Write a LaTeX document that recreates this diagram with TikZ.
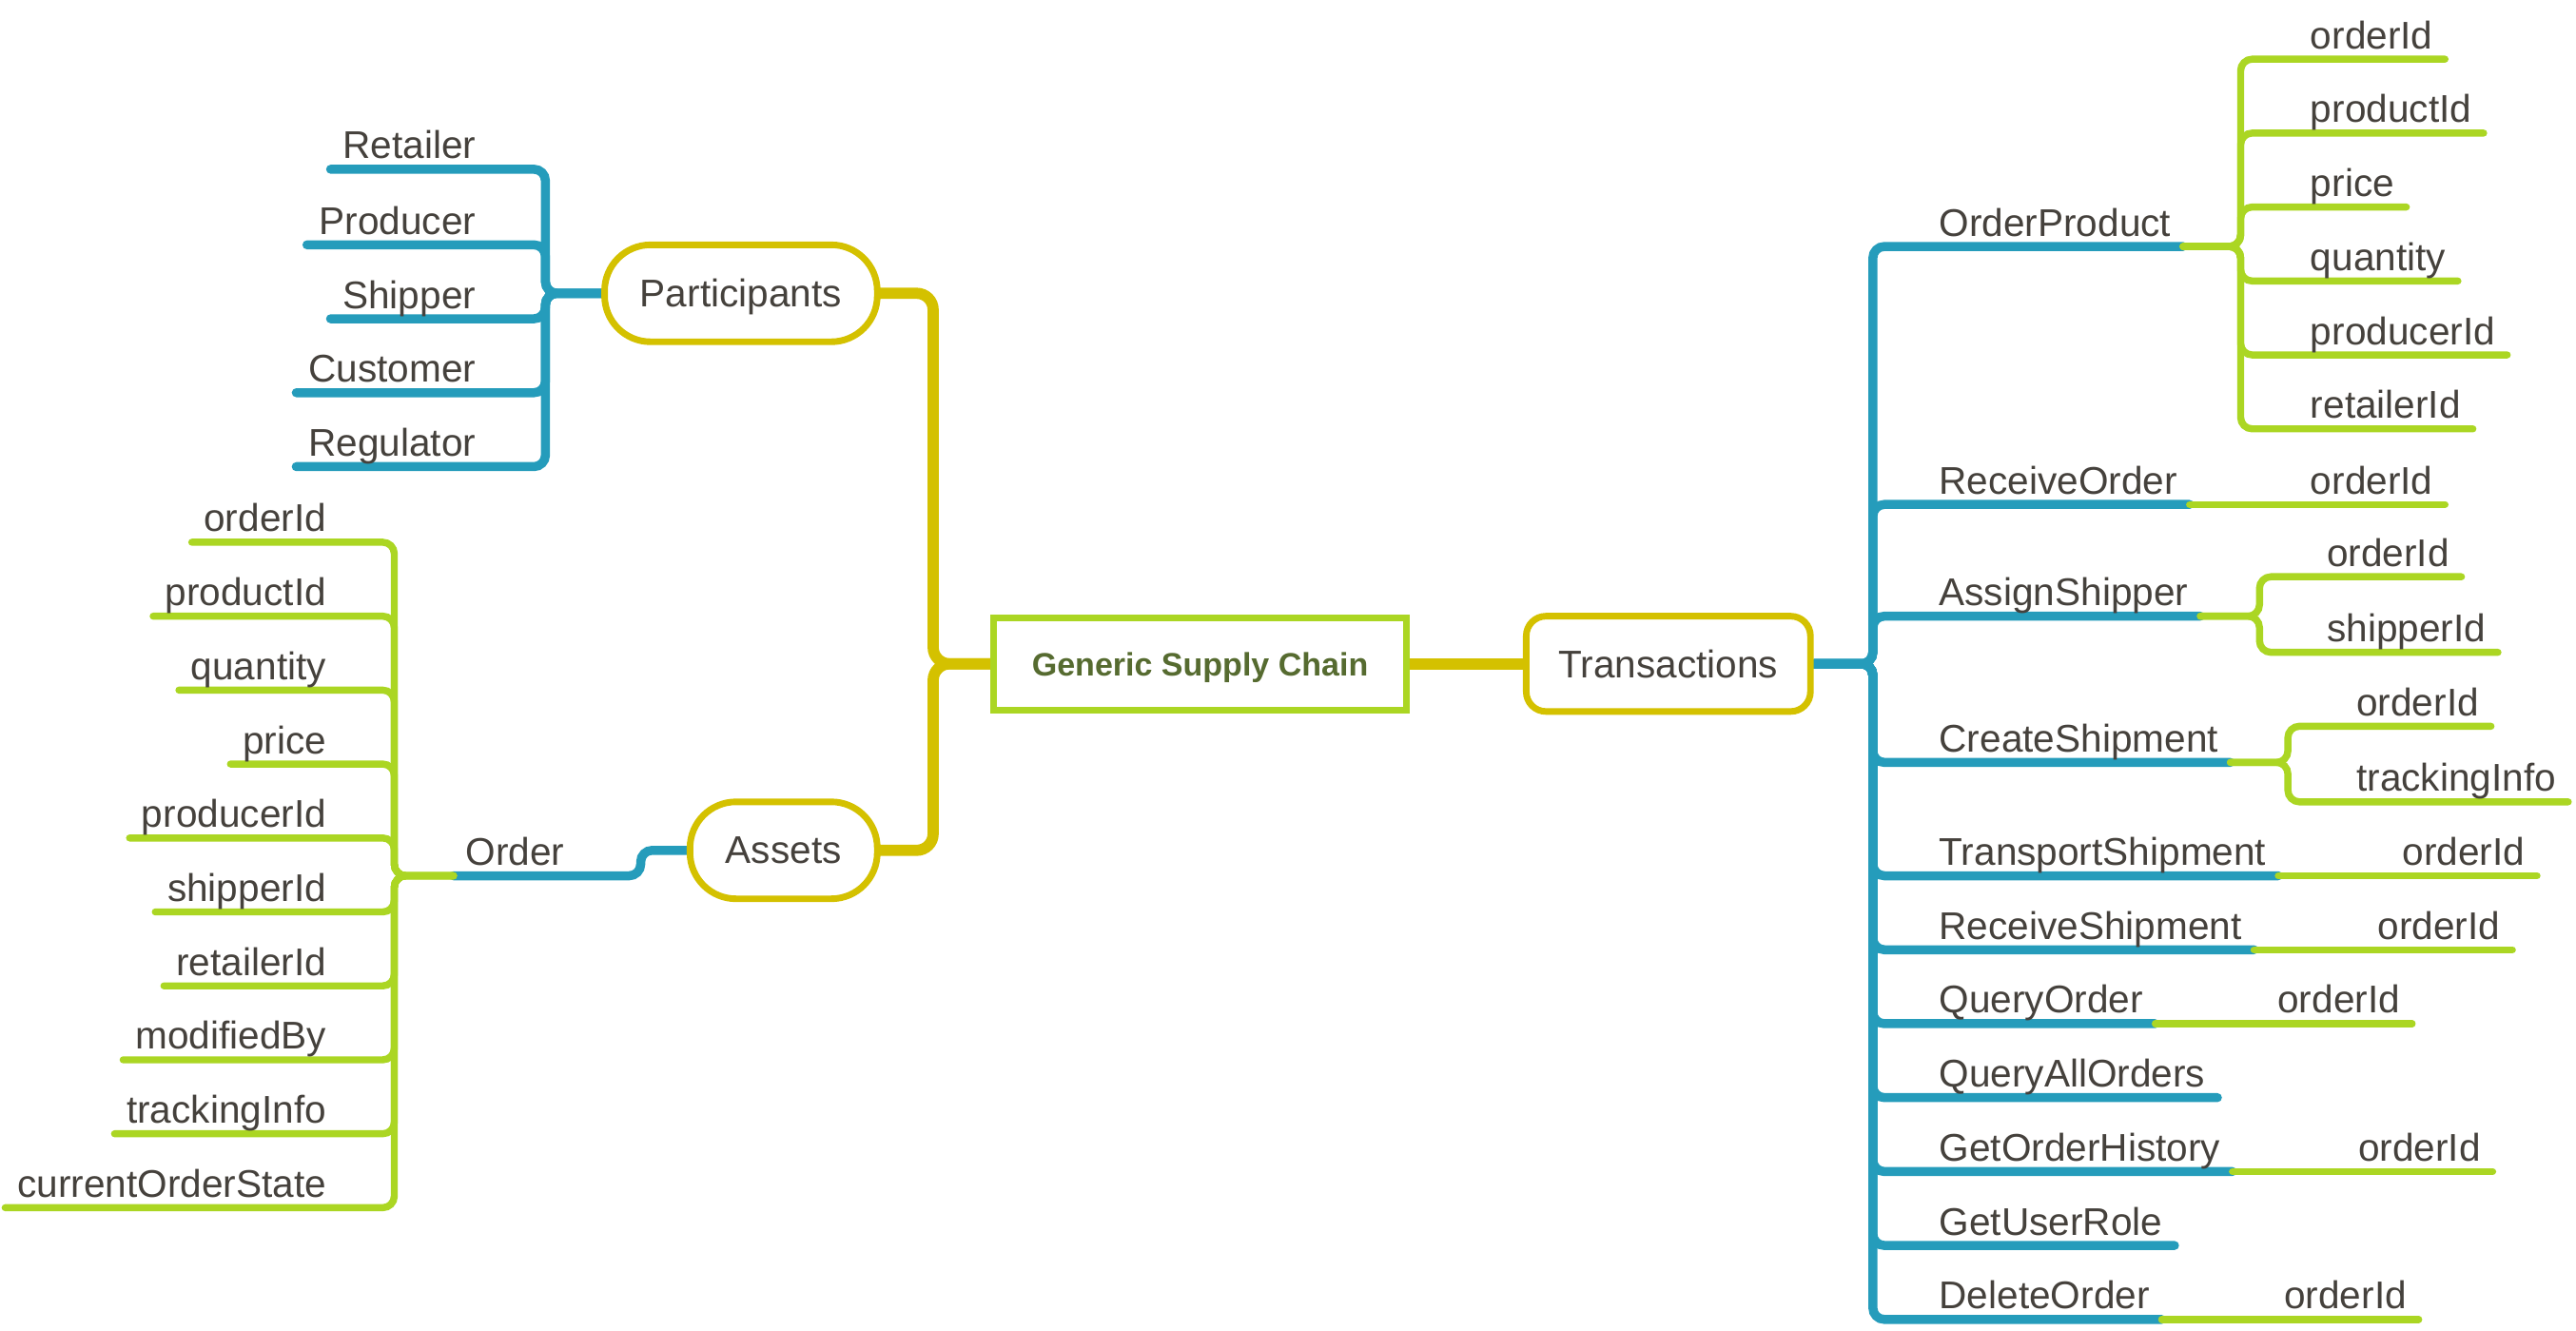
\documentclass[tikz,border=0pt]{standalone}
\usepackage{fontspec}
\setmainfont{Liberation Sans}
\usetikzlibrary{backgrounds}
\definecolor{ylw}{HTML}{D4C100}
\definecolor{blu}{HTML}{259CBB}
\definecolor{grn}{HTML}{ABD623}
\definecolor{txt}{HTML}{45413C}
\definecolor{ctr}{HTML}{566B30}
\begin{document}
\begin{tikzpicture}[x=0.5pt,y=-0.5pt,
  lbl/.style={font=\fontsize{11.75}{14}\selectfont, text=txt, inner xsep=3.5pt, inner ysep=3pt, text depth=0pt},
  topic/.style={draw=ylw, line width=2pt, fill=white, inner sep=0pt, text depth=0pt, font=\fontsize{11.75}{14}\selectfont, text=txt},
  root/.style={draw=grn, line width=2pt, fill=white, inner sep=0pt, text depth=0pt, minimum width=125.5pt, minimum height=28pt, font=\bfseries\fontsize{9.85}{12}\selectfont, text=ctr},
  ybr/.style={draw=ylw, line width=3.4pt, rounded corners=5pt, line cap=round},
  bbr/.style={draw=blu, line width=2.75pt, rounded corners=3.5pt, line cap=round},
  gbr/.style={draw=grn, line width=2.15pt, rounded corners=3.5pt, line cap=round}]
\useasboundingbox (0,0) rectangle (1568,809.5);

% main topics
\node[root] (gsc) at (730.5,404) {Generic Supply Chain};
\node[topic, rounded corners=14pt, minimum width=83pt, minimum height=29.5pt] (par) at (451,178.5) {Participants};
\node[topic, rounded corners=14pt, minimum width=57pt, minimum height=29.5pt] (ass) at (477,517.5) {Assets};
\node[topic, rounded corners=6pt, minimum width=86.5pt, minimum height=29pt] (tra) at (1015.5,404) {Transactions};

\begin{scope}[on background layer]
\draw[ybr] (gsc.west) -- ++(-35,0) |- (par.east);
\draw[ybr] (gsc.west) -- ++(-35,0) |- (ass.east);
\draw[ybr] (gsc.east) -- (tra.west);
\end{scope}

% Participants
\foreach \n/\y/\t in {1/103/Retailer, 2/149/Producer, 3/194/Shipper, 4/239/Customer, 5/284/Regulator}{
  \node[lbl, anchor=south east] (pc\n) at (297,\y) {\t};
  \begin{scope}[on background layer]
  \draw[bbr] (par.west) -- ++(-34,0) |- (pc\n.south east) -- (pc\n.south west);
  \end{scope}
}

% Assets -> Order
\node[lbl, anchor=south west] (ord) at (276,533) {Order};
\begin{scope}[on background layer]
\draw[bbr] (ass.west) -- ++(-28,0) |- (ord.south east) -- (ord.south west);
\end{scope}
\foreach \n/\y/\t in {1/330/orderId, 2/375/productId, 3/420/quantity, 4/465/price, 5/510/producerId, 6/555/shipperId, 7/600/retailerId, 8/645/modifiedBy, 9/690/trackingInfo, 10/735/currentOrderState}{
  \node[lbl, anchor=south east] (oc\n) at (206,\y) {\t};
  \begin{scope}[on background layer]
  \draw[gbr] (ord.south west) -- ++(-36,0) |- (oc\n.south east) -- (oc\n.south west);
  \end{scope}
}

% Transactions
\foreach \n/\y/\t in {1/150/OrderProduct, 2/307/ReceiveOrder, 3/375/AssignShipper, 4/464/CreateShipment, 5/533/TransportShipment, 6/578/ReceiveShipment, 7/623/QueryOrder, 8/668/QueryAllOrders, 9/713/GetOrderHistory, 10/758/GetUserRole, 11/803/DeleteOrder}{
  \node[lbl, anchor=south west] (tc\n) at (1173,\y) {\t};
  \begin{scope}[on background layer]
  \draw[bbr] (tra.east) -- ++(36,0) |- (tc\n.south west) -- (tc\n.south east);
  \end{scope}
}

% OrderProduct attributes
\foreach \n/\y/\t in {1/36/orderId, 2/81/productId, 3/126/price, 4/171/quantity, 5/216/producerId, 6/261/retailerId}{
  \node[lbl, anchor=south west] (op\n) at (1399,\y) {\t};
  \begin{scope}[on background layer]
  \draw[gbr] (tc1.south east) -- ++(35,0) |- (op\n.south west) -- (op\n.south east);
  \end{scope}
}

% AssignShipper attributes
\node[lbl, anchor=south west] (as1) at (1409,351) {orderId};
\node[lbl, anchor=south west] (as2) at (1409,397) {shipperId};
% CreateShipment attributes
\node[lbl, anchor=south west] (cs1) at (1427,442) {orderId};
\node[lbl, anchor=south west] (cs2) at (1427,488) {trackingInfo};
% single attributes
\node[lbl, anchor=south west] (ro1) at (1399,307) {orderId};
\node[lbl, anchor=south west] (ts1) at (1455,533) {orderId};
\node[lbl, anchor=south west] (rs1) at (1440,578) {orderId};
\node[lbl, anchor=south west] (qo1) at (1379,623) {orderId};
\node[lbl, anchor=south west] (gh1) at (1428,713) {orderId};
\node[lbl, anchor=south west] (do1) at (1383,803) {orderId};

\begin{scope}[on background layer]
\draw[gbr] (tc3.south east) -- ++(36,0) |- (as1.south west) -- (as1.south east);
\draw[gbr] (tc3.south east) -- ++(36,0) |- (as2.south west) -- (as2.south east);
\draw[gbr] (tc4.south east) -- ++(35,0) |- (cs1.south west) -- (cs1.south east);
\draw[gbr] (tc4.south east) -- ++(35,0) |- (cs2.south west) -- (cs2.south east);
\draw[gbr] (tc2.south east) -- (ro1.south east);
\draw[gbr] (tc5.south east) -- (ts1.south east);
\draw[gbr] (tc6.south east) -- (rs1.south east);
\draw[gbr] (tc7.south east) -- (qo1.south east);
\draw[gbr] (tc9.south east) -- (gh1.south east);
\draw[gbr] (tc11.south east) -- (do1.south east);
\end{scope}
\end{tikzpicture}
\end{document}
